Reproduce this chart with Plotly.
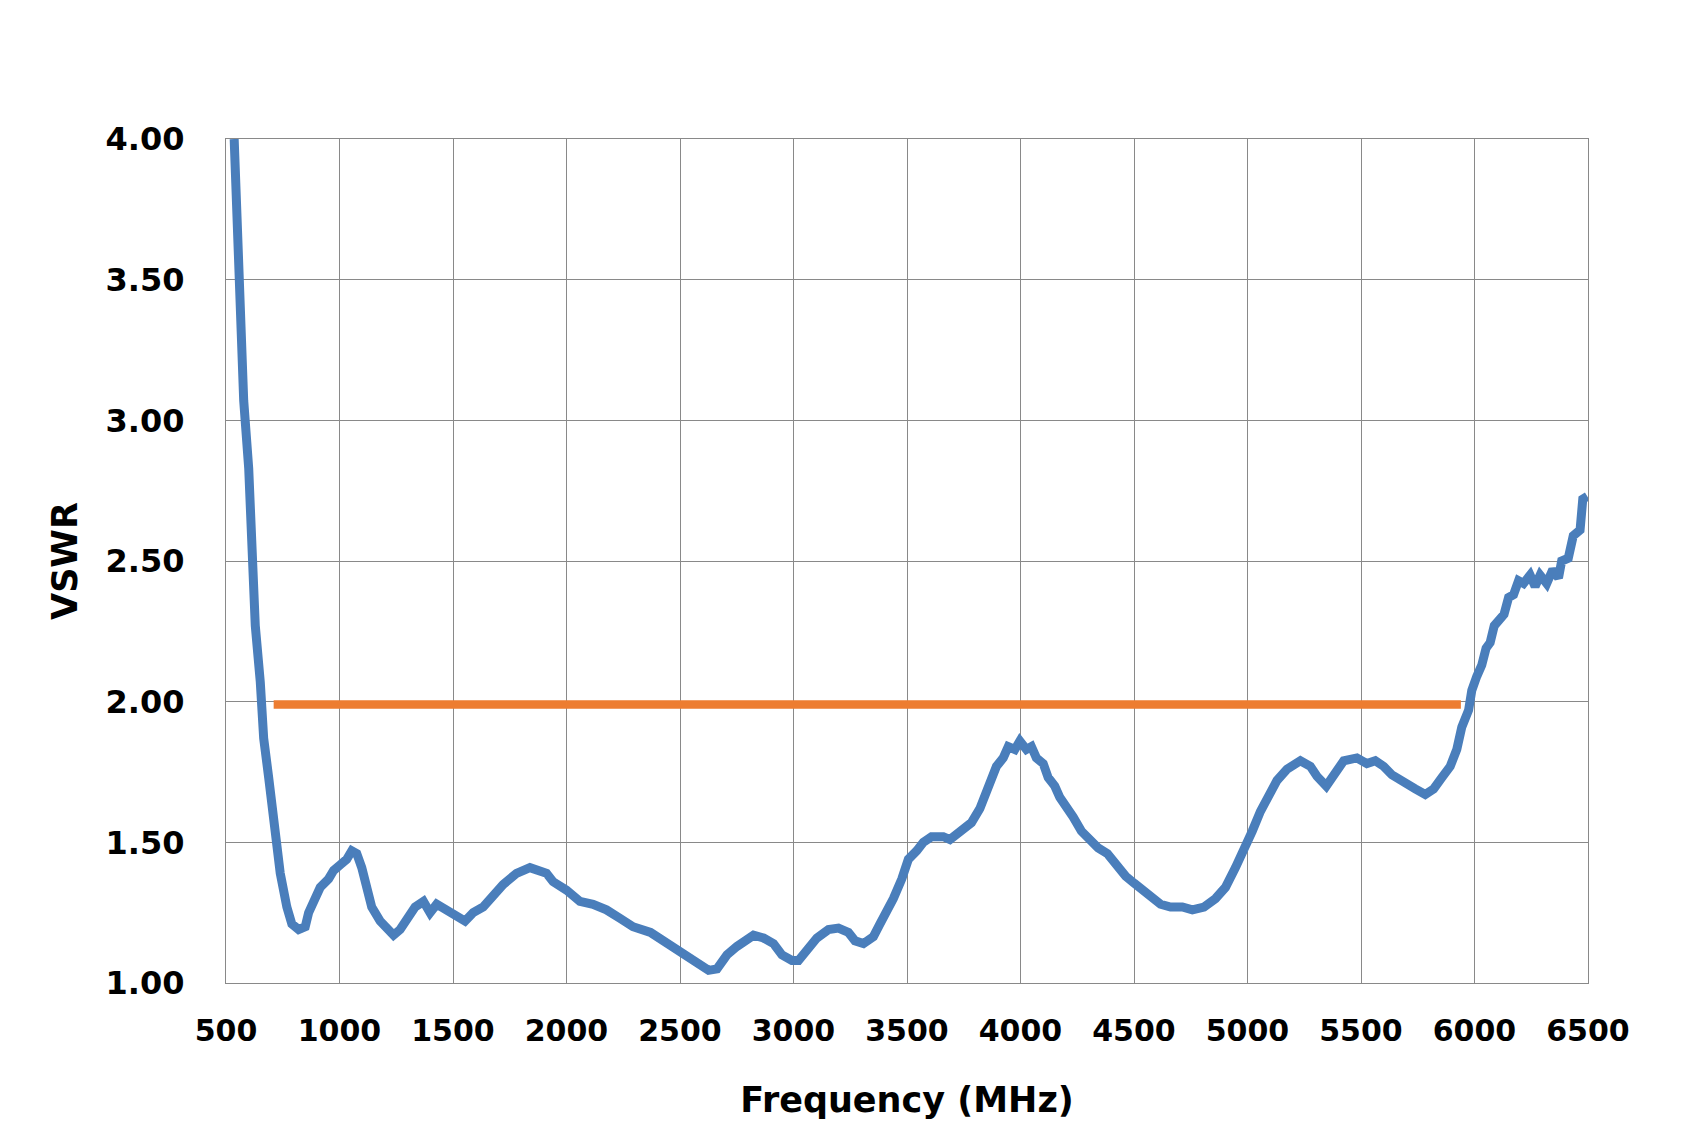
import plotly.graph_objects as go

freq_mhz = [536, 548, 563, 578, 600, 614, 629, 651, 666, 688, 710, 739, 768, 790, 820, 849, 864,
            900, 915, 952, 974, 1003, 1032, 1054, 1076, 1098, 1120, 1142, 1179, 1208, 1238, 1267,
            1296, 1333, 1370, 1399, 1428, 1472, 1516, 1553, 1589, 1633, 1677, 1721, 1780, 1839,
            1912, 1941, 2000, 2059, 2117, 2176, 2235, 2293, 2370, 2428, 2472, 2516, 2560, 2604,
            2626, 2663, 2707, 2751, 2787, 2824, 2868, 2912, 2949, 2993, 3022, 3059, 3103, 3154,
            3198, 3242, 3271, 3308, 3352, 3381, 3411, 3440, 3477, 3506, 3543, 3572, 3608, 3660,
            3689, 3718, 3748, 3784, 3821, 3843, 3865, 3894, 3924, 3946, 3975, 3997, 4026, 4048,
            4070, 4100, 4122, 4151, 4173, 4202, 4232, 4268, 4305, 4342, 4383, 4419, 4463, 4500,
            4537, 4573, 4617, 4661, 4713, 4757, 4808, 4859, 4903, 4947, 4984, 5021, 5057, 5094,
            5130, 5174, 5233, 5277, 5306, 5347, 5380, 5424, 5482, 5526, 5563, 5600, 5636, 5688,
            5739, 5783, 5820, 5856, 5893, 5922, 5944, 5974, 5988, 6010, 6032, 6051, 6069, 6087,
            6113, 6130, 6150, 6172, 6194, 6216, 6245, 6267, 6289, 6318, 6345, 6370, 6384, 6413,
            6435, 6465, 6477, 6497]
vswr = [4.00, 3.77, 3.31, 3.07, 2.83, 2.51, 2.27, 2.07, 1.87, 1.73, 1.55, 1.39, 1.27, 1.21, 1.19, 1.20, 1.25,
        1.31, 1.34, 1.37, 1.40, 1.42, 1.44, 1.47, 1.46, 1.41, 1.34, 1.27, 1.22, 1.19, 1.17, 1.19,
        1.23, 1.27, 1.29, 1.25, 1.28, 1.26, 1.24, 1.22, 1.25, 1.27, 1.31, 1.35, 1.39, 1.41,
        1.39, 1.36, 1.33, 1.29, 1.28, 1.26, 1.23, 1.20, 1.18, 1.15, 1.13, 1.11, 1.08, 1.06,
        1.045, 1.05, 1.10, 1.13, 1.15, 1.17, 1.16, 1.14, 1.10, 1.08, 1.08, 1.12, 1.16, 1.19,
        1.195, 1.18, 1.15, 1.14, 1.165, 1.21, 1.25, 1.30, 1.37, 1.44, 1.47, 1.50, 1.52, 1.52,
        1.51, 1.53, 1.55, 1.57, 1.62, 1.67, 1.71, 1.77, 1.80, 1.84, 1.83, 1.86, 1.83, 1.84,
        1.80, 1.78, 1.73, 1.70, 1.66, 1.63, 1.59, 1.54, 1.51, 1.48, 1.46, 1.42, 1.38, 1.355,
        1.33, 1.31, 1.28, 1.27, 1.27, 1.26, 1.27, 1.30, 1.34, 1.41, 1.47, 1.54, 1.61, 1.67,
        1.72, 1.76, 1.79, 1.77, 1.735, 1.70, 1.74, 1.79, 1.80, 1.78, 1.79, 1.77, 1.74, 1.71,
        1.69, 1.67, 1.69, 1.73, 1.77, 1.83, 1.91, 1.97, 2.04, 2.09, 2.13, 2.19, 2.21, 2.27,
        2.30, 2.31, 2.37, 2.38, 2.43, 2.42, 2.45, 2.41, 2.45, 2.42, 2.47, 2.44, 2.50, 2.51,
        2.59, 2.61, 2.72, 2.73]

limit_freq = [710, 5940]
limit_vswr = [1.99, 1.99]

x_ticks = [500, 1000, 1500, 2000, 2500, 3000, 3500, 4000, 4500, 5000, 5500, 6000, 6500]
y_ticks = [1.0, 1.5, 2.0, 2.5, 3.0, 3.5, 4.0]

FONT = "DejaVu Sans"
GRID = "#898989"

fig = go.Figure()
fig.add_trace(go.Scatter(x=limit_freq, y=limit_vswr, mode="lines",
                         line=dict(color="#ED7D31", width=8.5), showlegend=False))
fig.add_trace(go.Scatter(x=freq_mhz, y=vswr, mode="lines",
                         line=dict(color="#4A7EBB", width=9), showlegend=False))

fig.update_layout(
    width=1693, height=1135,
    margin=dict(l=218, r=113, t=131, b=160),
    paper_bgcolor="white", plot_bgcolor="white",
    font=dict(family=FONT, size=30, color="black"),
)
fig.update_xaxes(
    range=[500, 6500], tickvals=x_ticks, ticktext=[str(v) for v in x_ticks],
    showgrid=True, gridcolor=GRID, gridwidth=1.2,
    showline=True, linecolor=GRID, linewidth=1.2, mirror=True,
    zeroline=False, ticks="outside", ticklen=21, tickcolor="rgba(0,0,0,0)",
    tickfont=dict(family=FONT, size=30, color="black", weight="bold"),
    title=dict(text="<b>Frequency (MHz)</b>", font=dict(family=FONT, size=35), standoff=40),
)
fig.update_yaxes(
    range=[1, 4], tickvals=y_ticks, ticktext=[f"{v:.2f}" for v in y_ticks],
    showgrid=True, gridcolor=GRID, gridwidth=1.2,
    showline=True, linecolor=GRID, linewidth=1.2, mirror=True,
    zeroline=False, ticks="outside", ticklen=34, tickcolor="rgba(0,0,0,0)",
    tickfont=dict(family=FONT, size=32, color="black", weight="bold"),
    title=dict(text="<b>VSWR</b>", font=dict(family=FONT, size=35), standoff=17),
)

fig.write_html("out.html")
